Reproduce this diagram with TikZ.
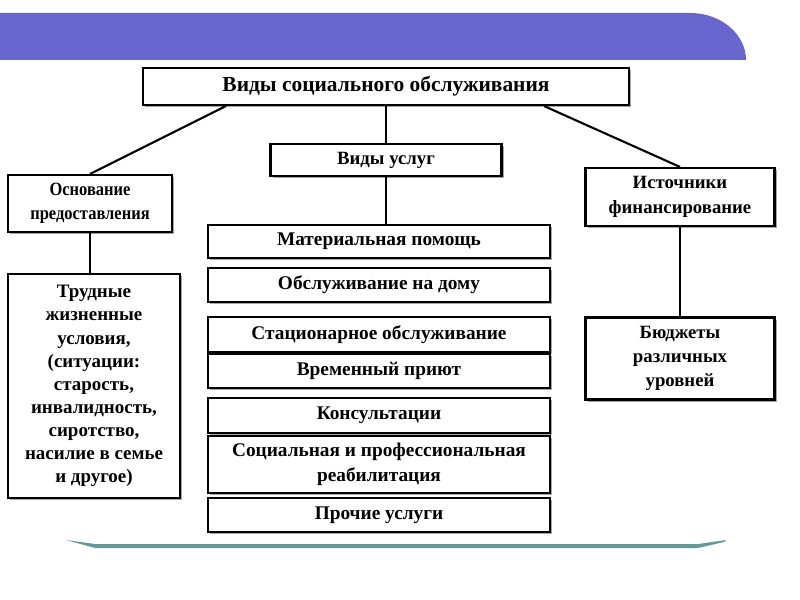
\documentclass[tikz,border=0pt]{standalone}
\usepackage{fontspec}
\setmainfont{Liberation Serif}
\newfontfamily\narrowfont[FakeStretch=0.88]{Liberation Serif}
\usetikzlibrary{calc,shadows}
\definecolor{banner}{HTML}{6666CC}
\definecolor{barteal}{HTML}{669999}

\begin{document}
\begin{tikzpicture}[x=0.3mm, y=-0.3mm,
    box/.style={draw, line width=1.8pt, fill=white, align=center, inner sep=0pt,
        font=\bfseries\fontsize{16}{20.8}\selectfont,
        drop shadow={shadow xshift=0.7mm, shadow yshift=-0.7mm, fill=black!35, opacity=1}},
    svc/.style={box, minimum width=102.6mm, font=\bfseries\fontsize{16.5}{20.8}\selectfont},
    link/.style={line width=1.8pt}]
    \useasboundingbox (0,0) rectangle (800,600);
    % slide decoration
    \fill[banner] (0,13) -- (690,13) .. controls (722,13) and (746,35) .. (746,60) -- (0,60) -- cycle;
    \fill[barteal] (66,540) -- (95,544) -- (698,544) -- (726,540) -- (724,542) -- (698,548) -- (95,548) -- cycle;

    \node[box, minimum width=145.8mm, minimum height=11.1mm, font=\bfseries\fontsize{18.3}{22}\selectfont] (title) at (386,86.5) {Виды социального обслуживания};
    \node[box, minimum width=69.3mm, minimum height=9.6mm] (services) at (386,160) {Виды услуг};
    \node[box, minimum width=49.2mm, minimum height=17.1mm, font=\narrowfont\bfseries\fontsize{16}{20.4}\selectfont] (basis) at (90,203.5) {Основание\\предоставления};
    \node[box, minimum width=51.6mm, minimum height=67.2mm, font=\bfseries\fontsize{16.2}{19.7}\selectfont] (cond) at (94,386) {Трудные\\жизненные\\условия,\\(ситуации:\\старость,\\инвалидность,\\сиротство,\\насилие в семье\\и другое)};
    \node[box, minimum width=56.7mm, minimum height=17.4mm] (src) at (680,197) {Источники\\финансирование};
    \node[box, minimum width=56.7mm, minimum height=24.6mm] (budget) at (680,358.5) {Бюджеты\\различных\\уровней};

    % kinds of services
    \node[svc, minimum height=9.9mm] (mat) at (379,241.5) {Материальная помощь};
    \node[svc, minimum height=10.2mm] (home) at (379,285) {Обслуживание на дому};
    \node[svc, minimum height=10.5mm] (stat) at (379,334.5) {Стационарное обслуживание};
    \node[svc, minimum height=10.2mm] (shelter) at (379,371) {Временный приют};
    \node[svc, minimum height=10.5mm] (consult) at (379,415.5) {Консультации};
    \node[svc, minimum height=17.1mm] (rehab) at (379,464.5) {Социальная и профессиональная\\реабилитация};
    \node[svc, minimum height=10.2mm] (other) at (379,515) {Прочие услуги};

    \draw[link] (title.south) -- (services.north);
    \draw[link] (services.south) -- (services.south |- mat.north);
    \draw[link] ($(title.south west)+(84,0)$) -- (basis.north);
    \draw[link] ($(title.south east)+(-86,0)$) -- (src.north);
    \draw[link] (basis.south) -- (basis.south |- cond.north);
    \draw[link] (src.south) -- (budget.north);
\end{tikzpicture}
\end{document}
